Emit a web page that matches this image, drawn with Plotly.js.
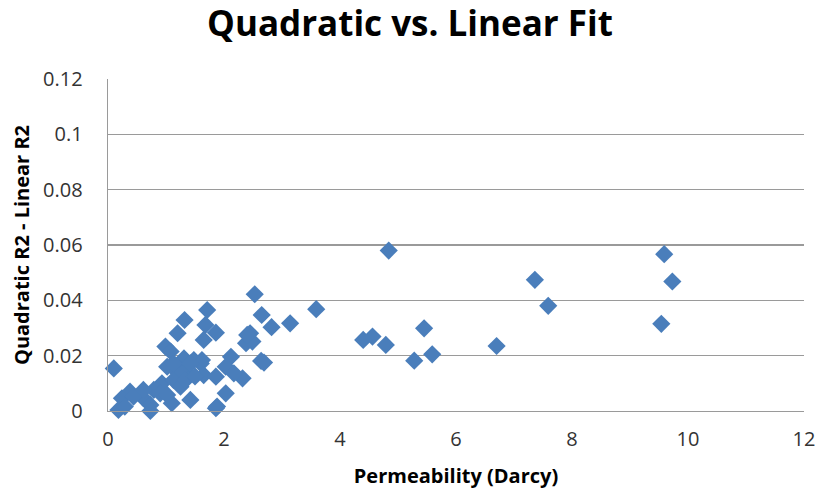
<!DOCTYPE html>
<html>
<head>
<meta charset="utf-8">
<script src="https://cdn.plot.ly/plotly-3.0.1.min.js"></script>
<style>html,body{margin:0;padding:0;background:#fff;}#chart{width:820px;height:492px;}</style>
</head>
<body>
<div id="chart"></div>
<script>
const permeability = [4.84, 9.59, 9.73, 9.54, 7.36, 7.59, 4.56, 4.40, 4.79, 5.45, 5.28, 5.59, 6.70,
  2.53, 3.59, 2.65, 2.82, 3.14, 2.45, 2.38, 2.49, 2.64, 2.69,
  1.71, 1.68, 1.86, 1.65, 2.12, 2.03, 1.62, 1.65, 1.86, 2.32, 2.17, 2.03, 1.88,
  1.32, 1.20, 2.40, 0.99, 1.08, 1.31, 1.48, 1.60, 0.10, 1.02, 1.19, 1.39,
  0.93, 0.79, 1.13, 1.25, 0.38, 0.24, 0.61, 0.73, 0.18, 0.73, 1.10, 1.42,
  1.86, 0.44, 0.90, 1.25, 1.13, 1.42, 1.34, 1.02, 0.61, 0.29, 1.50];
const r2Diff = [0.058, 0.0567, 0.0468, 0.0315, 0.0474, 0.038, 0.0269, 0.0257, 0.0239, 0.0299, 0.0182, 0.0205, 0.0235,
  0.0422, 0.0368, 0.0347, 0.0303, 0.0317, 0.0281, 0.0245, 0.0251, 0.0181, 0.0175,
  0.0365, 0.0311, 0.0283, 0.0257, 0.0196, 0.016, 0.0184, 0.013, 0.0124, 0.0118, 0.0136, 0.0064, 0.0016,
  0.0329, 0.0281, 0.0275, 0.0233, 0.0215, 0.019, 0.0184, 0.0172, 0.0154, 0.016, 0.0142, 0.013,
  0.010, 0.0076, 0.0112, 0.0088, 0.007, 0.0046, 0.0046, 0.0022, 0.0004, 0.0, 0.0028, 0.004,
  0.001, 0.0052, 0.0064, 0.0148, 0.0172, 0.0172, 0.0112, 0.0058, 0.0076, 0.0016, 0.0125];
const xTicks = [0, 2, 4, 6, 8, 10, 12];
const yTicks = [0, 0.02, 0.04, 0.06, 0.08, 0.1, 0.12];
const yTickText = ['0', '0.02', '0.04', '0.06', '0.08', '0.1', '0.12'];

const trace = {
  x: permeability, y: r2Diff, type: 'scatter', mode: 'markers',
  cliponaxis: false,
  marker: {symbol: 'diamond', size: 14, color: '#4A7EBB', line: {width: 0}},
  hoverinfo: 'x+y'
};
const FONT = '"Open Sans", Lato, sans-serif';
const layout = {
  width: 820, height: 492,
  margin: {l: 108, r: 16, t: 79, b: 81},
  paper_bgcolor: '#fff', plot_bgcolor: '#fff',
  showlegend: false,
  font: {family: FONT, color: '#333'},
  title: {text: '<b>Quadratic vs. Linear Fit</b>', x: 0.5, xanchor: 'center', y: 0.952, yanchor: 'middle',
    font: {family: FONT, size: 35, color: '#000'}},
  xaxis: {
    range: [0, 12], tickvals: xTicks, ticktext: xTicks.map(String),
    showgrid: false, zeroline: false, showline: true, linecolor: '#9a9a9a', linewidth: 1.4,
    ticks: '', ticklabelstandoff: 10, tickfont: {family: FONT, size: 20, color: '#333'},
    title: {text: '<b>Permeability (Darcy)</b>', standoff: 17, font: {family: FONT, size: 20, color: '#000'}}
  },
  yaxis: {
    range: [0, 0.12], tickvals: yTicks, ticktext: yTickText,
    showgrid: true, gridcolor: '#9a9a9a', gridwidth: 1.4,
    zeroline: false, showline: true, linecolor: '#9a9a9a', linewidth: 1.4,
    ticks: '', ticklen: 0, ticklabelstandoff: 20, tickfont: {family: FONT, size: 20, color: '#333'},
    title: {text: '<b>Quadratic R2 - Linear R2</b>', standoff: 8, font: {family: FONT, size: 20, color: '#000'}}
  }
};
Plotly.newPlot('chart', [trace], layout, {displayModeBar: false, staticPlot: true});
</script>
</body>
</html>
